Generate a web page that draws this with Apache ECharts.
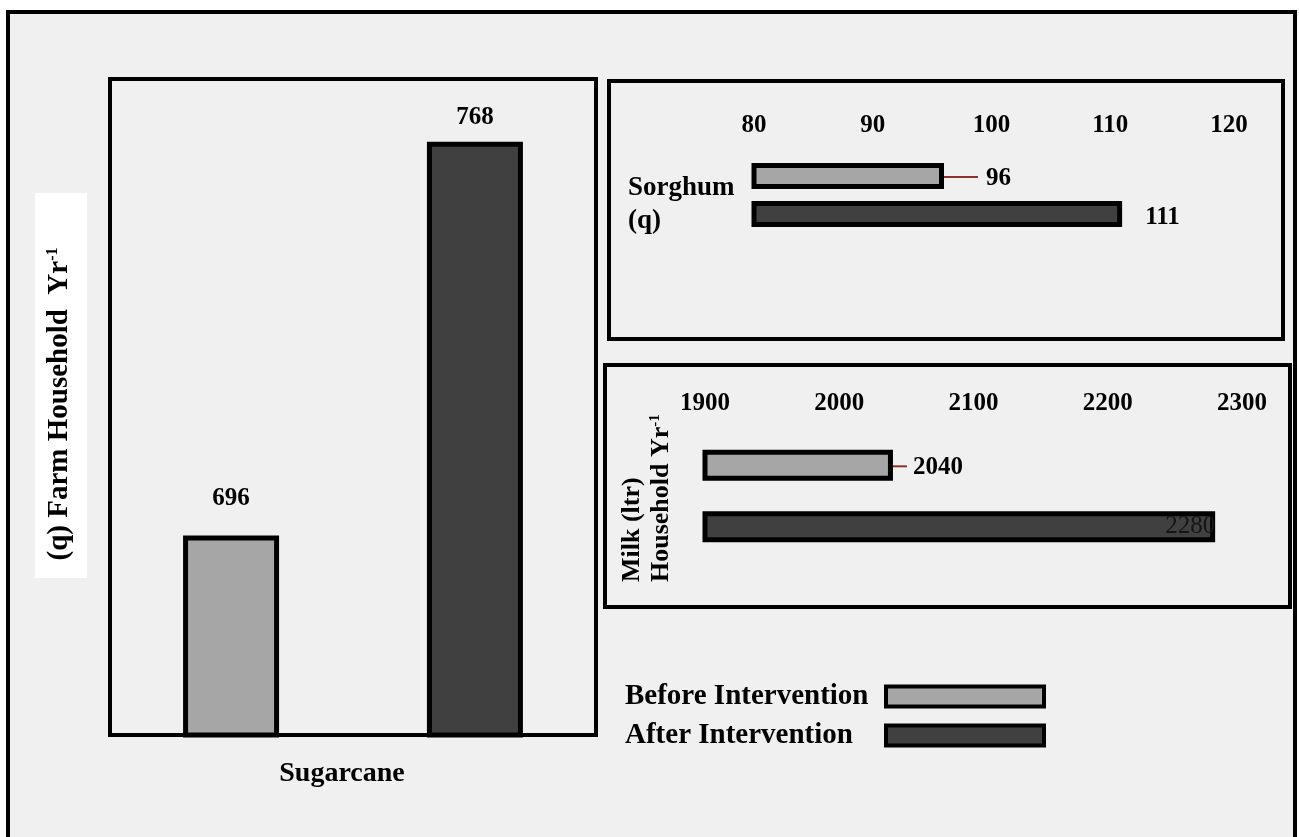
<!DOCTYPE html>
<html lang="en">
<head>
  <meta charset="UTF-8">
  <style>
    html, body { margin: 0; padding: 0; background: #ffffff; }
    #container { width: 1299px; height: 837px; }
  </style>
  <script src="https://cdn.jsdelivr.net/npm/echarts@6/dist/echarts.min.js"></script>
</head>
<body>
  <div id="container"></div>
  <script>
    // data
    var crops = ['Sugarcane'];
    var seriesNames = ['Before Intervention', 'After Intervention'];
    var sugarcaneBefore = [696];
    var sugarcaneAfter = [768];
    var sorghumBefore = [96];
    var sorghumAfter = [111];
    var milkBefore = [2040];
    var milkAfter = [2280];
    // axis ranges [min, max, interval]
    var sugarcaneRange = [659.5, 779.5];
    var sorghumTicks = [80, 120, 10];
    var milkTicks = [1900, 2300, 100];

    var FONT = "'Liberation Serif', 'Times New Roman', serif";
    var BEFORE = '#a6a6a6';
    var AFTER = '#404040';
    var LEADER = '#8b3333';

    var chart = echarts.init(document.getElementById('container'));

    var txt = { fontFamily: FONT, fontWeight: 'bold', fontSize: 25, color: '#000' };

    function barStyle(c) {
      return { color: c, borderColor: '#000', borderWidth: 5 };
    }

    var topAxis = function (grid, t, margin) {
      return {
        type: 'value', gridIndex: grid, position: 'top',
        min: t[0], max: t[1], interval: t[2],
        axisLine: { show: false }, axisTick: { show: false }, splitLine: { show: false },
        axisLabel: Object.assign({ margin: margin, formatter: function (v) { return String(v); } }, txt)
      };
    };

    var option = {
      animation: false,
      grid: [
        { left: 110, top: 79, width: 486, height: 656, show: true,
          backgroundColor: '#f0f0f0', borderColor: '#000', borderWidth: 4 },
        { left: 754, top: 150, width: 475, height: 90 },
        { left: 705, top: 440, width: 537, height: 112 }
      ],
      xAxis: [
        { type: 'category', gridIndex: 0, data: crops,
          axisLine: { show: false }, axisTick: { show: false },
          axisLabel: { margin: 25, fontSize: 28, padding: [0, 22, 0, 0], fontFamily: FONT, fontWeight: 'bold', color: '#000' } },
        topAxis(1, sorghumTicks, 12),
        topAxis(2, milkTicks, 24)
      ],
      yAxis: [
        { type: 'value', gridIndex: 0, min: sugarcaneRange[0], max: sugarcaneRange[1], show: false },
        { type: 'category', gridIndex: 1, data: ['Sorghum (q)'], inverse: true, show: false },
        { type: 'category', gridIndex: 2, data: ['Milk (ltr)'], inverse: true, show: false }
      ],
      legend: {
        left: 620, top: 677, orient: 'vertical', align: 'right',
        icon: 'rect', itemWidth: 158, itemHeight: 20, itemGap: 10,
        data: seriesNames,
        formatter: '{t|{name}}',
        itemStyle: { borderColor: '#000', borderWidth: 4 },
        textStyle: {
          fontFamily: FONT, fontWeight: 'bold', fontSize: 29, color: '#000',
          rich: { t: { width: 256, align: 'left', lineHeight: 30, fontFamily: FONT, fontWeight: 'bold', fontSize: 29, color: '#000' } }
        }
      },
      series: [
        { name: seriesNames[0], type: 'bar', xAxisIndex: 0, yAxisIndex: 0, data: sugarcaneBefore,
          barWidth: 96, barGap: '154%', itemStyle: barStyle(BEFORE),
          label: Object.assign({ show: true, position: 'top', distance: 24 }, txt) },
        { name: seriesNames[1], type: 'bar', xAxisIndex: 0, yAxisIndex: 0, data: sugarcaneAfter,
          barWidth: 96, barGap: '154%', itemStyle: barStyle(AFTER),
          label: Object.assign({ show: true, position: 'top', distance: 12 }, txt) },

        { name: seriesNames[0], type: 'bar', xAxisIndex: 1, yAxisIndex: 1, data: sorghumBefore,
          barWidth: 26, barGap: '46%', itemStyle: barStyle(BEFORE),
          label: { show: true, position: 'right', distance: 0, offset: [0, 1], formatter: '{line|}{v|{c}}',
            rich: { line: { width: 34, height: 2, backgroundColor: LEADER },
                    v: Object.assign({ padding: [3, 0, 0, 8] }, txt) } } },
        { name: seriesNames[1], type: 'bar', xAxisIndex: 1, yAxisIndex: 1, data: sorghumAfter,
          barWidth: 26, barGap: '46%', itemStyle: barStyle(AFTER),
          label: Object.assign({ show: true, position: 'right', distance: 23, offset: [0, 4] }, txt) },

        { name: seriesNames[0], type: 'bar', xAxisIndex: 2, yAxisIndex: 2, data: milkBefore,
          barWidth: 31, barGap: '98%', itemStyle: barStyle(BEFORE),
          label: { show: true, position: 'right', distance: 0, offset: [0, 1], formatter: '{line|}{v|{c}}',
            rich: { line: { width: 14, height: 2, backgroundColor: LEADER },
                    v: Object.assign({ padding: [3, 0, 0, 6] }, txt) } } },
        { name: seriesNames[1], type: 'bar', xAxisIndex: 2, yAxisIndex: 2, data: milkAfter,
          barWidth: 31, barGap: '98%', itemStyle: barStyle(AFTER),
          label: { show: true, position: 'insideRight', distance: 0, fontFamily: FONT,
            fontWeight: 'normal', fontSize: 25, color: '#151515' } }
      ],
      graphic: [
        // outer frame
        { type: 'rect', z: -10, shape: { x: 8, y: 12, width: 1287, height: 850 },
          style: { fill: '#f0f0f0', stroke: '#000', lineWidth: 4 } },
        // right panel frames
        { type: 'rect', z: 1, shape: { x: 609, y: 81, width: 674, height: 258 },
          style: { fill: null, stroke: '#000', lineWidth: 4 } },
        { type: 'rect', z: 1, shape: { x: 605, y: 365, width: 685, height: 242 },
          style: { fill: null, stroke: '#000', lineWidth: 4 } },
        // y title for sugarcane
        { type: 'rect', z: 1, shape: { x: 35, y: 193, width: 52, height: 385 },
          style: { fill: '#ffffff' } },
        { type: 'text', z: 5, x: 60, y: 404, rotation: Math.PI / 2,
          style: { text: '{a|(q) Farm Household  Yr}{sup|-1}', align: 'center', verticalAlign: 'middle',
            rich: { a: { fontFamily: FONT, fontWeight: 'bold', fontSize: 29, fill: '#000' },
                    sup: { fontFamily: FONT, fontWeight: 'bold', fontSize: 16, fill: '#000', padding: [0, 0, 14, 0] } } } },
        // sorghum title
        { type: 'text', z: 5, x: 628, y: 205,
          style: { text: 'Sorghum\n(q)', align: 'left', verticalAlign: 'middle', lineHeight: 33,
            font: 'bold 27px ' + FONT, fill: '#000' } },
        // milk title
        { type: 'text', z: 5, x: 647, y: 582, rotation: Math.PI / 2,
          style: { text: '{a|Milk (ltr)}\n{a|Household Yr}{sup|-1}', align: 'left', verticalAlign: 'middle',
            rich: { a: { fontFamily: FONT, fontWeight: 'bold', fontSize: 26, lineHeight: 29, fill: '#000' },
                    sup: { fontFamily: FONT, fontWeight: 'bold', fontSize: 15, lineHeight: 29, fill: '#000', padding: [0, 0, 12, 0] } } } }
      ]
    };

    chart.setOption(option);
  </script>
</body>
</html>
